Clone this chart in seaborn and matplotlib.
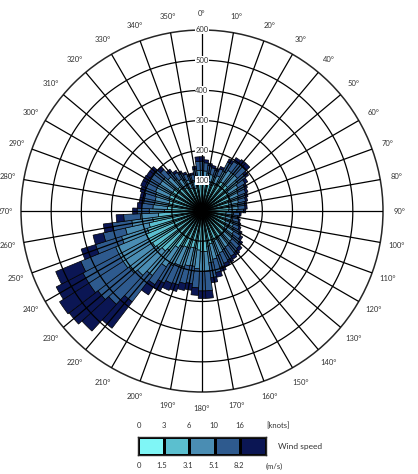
import numpy as np
import matplotlib
matplotlib.use("Agg")
import matplotlib.pyplot as plt
import seaborn as sns
from matplotlib.colors import ListedColormap

sns.set_style("white")
plt.rcParams['font.family'] = ['Lato', 'DejaVu Sans']

# wind direction bins (deg, 5 deg sectors)
directions = list(range(0, 360, 5))

# counts per speed class, stacked outward
speed_0_15 = [20] * 72
speed_15_31 = [80, 78, 75, 72, 70, 75, 90, 95, 95, 95, 90, 85,
               80, 78, 75, 72, 70, 70, 68, 60, 58, 60, 62, 65,
               68, 72, 75, 78, 80, 80, 82, 85, 88, 92, 98, 115,
               115, 110, 105, 105, 110, 110, 115, 125, 150, 160, 170, 175,
               180, 180, 170, 160, 145, 125, 105, 95, 92, 92, 95, 97,
               97, 95, 95, 88, 78, 72, 68, 63, 58, 58, 67, 80]
speed_31_51 = [35, 35, 32, 32, 30, 32, 40, 45, 45, 45, 40, 37,
               35, 33, 32, 32, 30, 30, 28, 25, 24, 25, 27, 28,
               30, 33, 35, 38, 40, 42, 43, 45, 48, 52, 55, 65,
               65, 62, 60, 62, 65, 65, 70, 75, 100, 110, 115, 115,
               110, 110, 90, 80, 70, 60, 50, 48, 47, 47, 48, 50,
               50, 50, 50, 45, 38, 34, 31, 29, 27, 27, 31, 35]
speed_51_82 = [30, 27, 25, 23, 22, 25, 33, 35, 38, 38, 33, 28,
               27, 26, 25, 24, 23, 23, 22, 20, 18, 20, 20, 21,
               25, 27, 30, 33, 34, 36, 38, 38, 40, 45, 50, 65,
               65, 63, 58, 60, 62, 65, 65, 70, 110, 130, 130, 135,
               135, 125, 90, 75, 65, 55, 40, 37, 36, 36, 37, 38,
               38, 38, 38, 34, 29, 26, 24, 21, 19, 19, 23, 30]
speed_82_up = [15, 10, 8, 8, 8, 8, 12, 15, 17, 17, 12, 10,
               8, 8, 8, 7, 7, 7, 7, 5, 5, 5, 6, 6,
               7, 8, 10, 11, 11, 12, 12, 12, 14, 16, 17, 25,
               25, 25, 22, 23, 23, 25, 30, 40, 110, 120, 120, 115,
               100, 90, 50, 35, 30, 25, 15, 15, 15, 15, 15, 15,
               15, 15, 15, 13, 10, 8, 7, 7, 6, 6, 9, 15]

classes = [speed_0_15, speed_15_31, speed_31_51, speed_51_82, speed_82_up]
colors = ['#7ff6f6', '#5bbfcf', '#4a8db3', '#2e5a8e', '#0b1654']
rings = [100, 200, 300, 400, 500, 600]
knots_ticks = ['0', '3', '6', '10', '16']
ms_ticks = ['0', '1.5', '3.1', '5.1', '8.2']

W, H = 418, 474
fig = plt.figure(figsize=(W / 100, H / 100), dpi=100)
ax = fig.add_axes([21 / W, 1 - 392 / H, 362 / W, 362 / H], projection='polar')
ax.set_theta_zero_location('N')
ax.set_theta_direction(-1)

theta = np.deg2rad(directions)
bottom = np.zeros(len(directions))
for vals, col in zip(classes, colors):
    vals = np.array(vals, dtype=float)
    ax.bar(theta, vals, width=np.deg2rad(5), bottom=bottom, color=col,
           edgecolor='black', linewidth=0.5, align='center', zorder=2)
    bottom += vals

ax.set_ylim(0, 600)
ax.set_xticks([])
ax.set_yticks([])
ax.grid(False)

# grid drawn over the bars
for a in range(0, 360, 10):
    ax.plot([np.deg2rad(a)] * 2, [0, 600], color='black', lw=0.9, zorder=3)
circ = np.linspace(0, 2 * np.pi, 400)
for r in rings[:-1]:
    ax.plot(circ, [r] * len(circ), color='black', lw=0.9, zorder=3)
ax.spines['polar'].set_linewidth(1.1)

for r in rings:
    ax.text(0, r, str(r), ha='center', va='center', fontsize=5.5, color='#333333',
            bbox=dict(facecolor='white', edgecolor='none', pad=0.6), zorder=4)

for a in range(0, 360, 10):
    ax.text(np.deg2rad(a), 655, f'{a}°', ha='center', va='center',
            fontsize=5.5, color='#333333', clip_on=False)

# legend bar
lax = fig.add_axes([138 / W, 1 - 455 / H, 128 / W, 18 / H])
sns.heatmap(np.arange(5).reshape(1, 5), cmap=ListedColormap(colors), cbar=False,
            linewidths=1, linecolor='black', ax=lax, xticklabels=False, yticklabels=False)
for sp in lax.spines.values():
    sp.set_visible(True)
    sp.set_linewidth(1)

kx = [139, 164, 189, 214, 240]
for x, t in zip(kx, knots_ticks):
    fig.text(x / W, 1 - 426 / H, t, ha='center', va='center', fontsize=5.5, color='#333333')
fig.text(266 / W, 1 - 426 / H, '[knots]', ha='left', va='center', fontsize=5.5, color='#333333')
mx = [139, 162, 188, 214, 239]
for x, t in zip(mx, ms_ticks):
    fig.text(x / W, 1 - 466 / H, t, ha='center', va='center', fontsize=5.5, color='#333333')
fig.text(266 / W, 1 - 466 / H, '(m/s)', ha='left', va='center', fontsize=5.5, color='#333333')
fig.text(278 / W, 1 - 446 / H, 'Wind speed', ha='left', va='center', fontsize=6, color='#333333')

fig.savefig('out.png', dpi=100)
